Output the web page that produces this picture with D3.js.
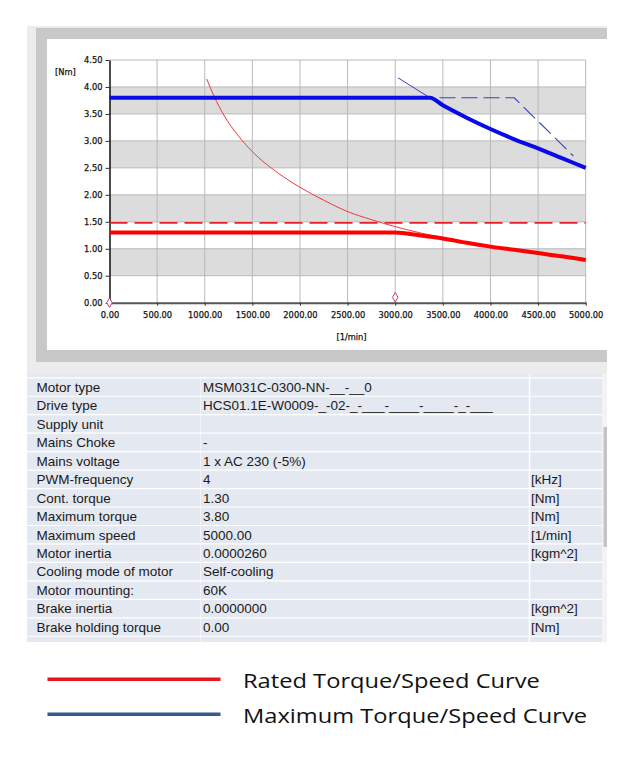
<!DOCTYPE html>
<html>
<head>
<meta charset="utf-8">
<script src="https://cdn.jsdelivr.net/npm/d3@7"></script>
<style>
  html, body { margin: 0; padding: 0; background: #ffffff; }
  svg { display: block; }
</style>
</head>
<body>
<svg id="chart" width="629" height="762"></svg>
<script>
// ---------- data ----------
const xTicks = [0, 500, 1000, 1500, 2000, 2500, 3000, 3500, 4000, 4500, 5000];
const yTicks = [0, 0.5, 1.0, 1.5, 2.0, 2.5, 3.0, 3.5, 4.0, 4.5];

// Maximum torque/speed curve (thick blue)
const maxCurve = [[0, 3.80], [3365, 3.80], [3500, 3.66], [3750, 3.43], [4000, 3.22], [4250, 3.03], [4500, 2.86], [4750, 2.68], [5000, 2.50]];
// thin blue limit curve
const maxLimit = [[3030, 4.17], [3200, 3.98], [3365, 3.80], [3500, 3.66], [3750, 3.43], [4000, 3.22], [4250, 3.03], [4500, 2.86], [4750, 2.68], [5000, 2.50]];
// blue dashed curve
const maxDashed = [[0, 3.80], [4250, 3.80], [4870, 2.72]];

// Rated torque/speed curve (thick red)
const ratedCurve = [[0, 1.30], [3000, 1.30], [3250, 1.25], [3500, 1.19], [3750, 1.11], [4000, 1.04], [4250, 0.98], [4500, 0.92], [4750, 0.86], [5000, 0.79]];
// thin red curve
const ratedLimit = [[1020, 4.15], [1100, 3.82], [1200, 3.48], [1350, 3.10], [1500, 2.80], [1750, 2.43], [2000, 2.14], [2250, 1.90], [2500, 1.69], [2750, 1.54], [3000, 1.41], [3250, 1.30], [3500, 1.21], [4000, 1.05], [4500, 0.93], [5000, 0.80]];
// red dashed line
const ratedDashed = [[0, 1.48], [5000, 1.48]];

// diamond markers
const markers = [[0, 0], [3000, 0.10]];

// table
const tableLabels = ["Motor type", "Drive type", "Supply unit", "Mains Choke", "Mains voltage", "PWM-frequency", "Cont. torque", "Maximum torque", "Maximum speed", "Motor inertia", "Cooling mode of motor", "Motor mounting:", "Brake inertia", "Brake holding torque"];
const tableValues = ["MSM031C-0300-NN-__-__0", "HCS01.1E-W0009-_-02-_-___-____-____-_-___", "", "-", "1 x AC 230 (-5%)", "4", "1.30", "3.80", "5000.00", "0.0000260", "Self-cooling", "60K", "0.0000000", "0.00"];
const tableUnits = ["", "", "", "", "", "[kHz]", "[Nm]", "[Nm]", "[1/min]", "[kgm^2]", "", "", "[kgm^2]", "[Nm]"];

// legend
const legendLabels = ["Rated Torque/Speed Curve", "Maximum Torque/Speed Curve"];
const legendColors = ["#e3161d", "#335a91"];

// ---------- drawing ----------
const svg = d3.select("#chart");

// frame
svg.append("rect").attr("x", 27).attr("y", 26).attr("width", 580).attr("height", 616).attr("fill", "#ececec");
svg.append("rect").attr("x", 36).attr("y", 28).attr("width", 571).attr("height", 334).attr("fill", "#c8c8c8");
svg.append("rect").attr("x", 47).attr("y", 39).attr("width", 560).attr("height", 311).attr("fill", "#ffffff");

const x = d3.scaleLinear().domain([0, 5000]).range([109.5, 585.7]);
const y = d3.scaleLinear().domain([0, 4.5]).range([302.7, 60]);

// bands
const bandStarts = [0.5, 1.5, 2.5, 3.5];
svg.append("g").selectAll("rect").data(bandStarts).join("rect")
  .attr("x", x(0)).attr("width", x(5000) - x(0))
  .attr("y", d => y(d + 0.5)).attr("height", d => y(d) - y(d + 0.5))
  .attr("fill", "#dcdcdc");

// grid
const grid = svg.append("g").attr("stroke", "#b9b9b9").attr("stroke-width", 1);
grid.selectAll("line.v").data(xTicks.slice(1)).join("line").attr("class", "v")
  .attr("x1", d => x(d)).attr("x2", d => x(d)).attr("y1", y(4.5)).attr("y2", y(0));
grid.selectAll("line.h").data(yTicks.slice(1)).join("line").attr("class", "h")
  .attr("x1", x(0)).attr("x2", x(5000)).attr("y1", d => y(d)).attr("y2", d => y(d));

// axes
const fmt = d3.format(".2f");
const yAxis = svg.append("g").attr("transform", `translate(${x(0)},0)`)
  .call(d3.axisLeft(y).tickValues(yTicks).tickFormat(fmt).tickSize(4).tickSizeOuter(0).tickPadding(3));
const xAxis = svg.append("g").attr("transform", `translate(0,${y(0)})`)
  .call(d3.axisBottom(x).tickValues(xTicks).tickFormat(fmt).tickSize(3).tickSizeOuter(0).tickPadding(6));
const axisText = sel => sel.attr("font-family", "DejaVu Sans").attr("font-size", "8.3px")
  .attr("fill", "#151515").attr("stroke", "#151515").attr("stroke-width", 0.25);
[yAxis, xAxis].forEach(g => {
  g.selectAll("text").call(axisText);
  g.selectAll("line").attr("stroke", "#333");
});
yAxis.select(".domain").attr("stroke", "#111").attr("stroke-width", 1.5);
xAxis.select(".domain").attr("stroke", "#555").attr("stroke-width", 2);

svg.append("text").attr("x", 55).attr("y", 74.5).text("[Nm]").call(axisText);
svg.append("text").attr("x", 351.5).attr("y", 339.5).attr("text-anchor", "middle").text("[1/min]").call(axisText);

// lines
const line = d3.line().x(d => x(d[0])).y(d => y(d[1]));
const curve = d3.line().x(d => x(d[0])).y(d => y(d[1])).curve(d3.curveMonotoneX);

svg.append("path").datum(ratedDashed).attr("d", line).attr("fill", "none")
  .attr("stroke", "#e8202a").attr("stroke-width", 1.8).attr("stroke-dasharray", "18,7");
svg.append("path").datum(ratedLimit).attr("d", curve).attr("fill", "none")
  .attr("stroke", "#ee3a3a").attr("stroke-width", 1);
svg.append("path").datum(ratedCurve).attr("d", curve).attr("fill", "none")
  .attr("stroke", "#ff0000").attr("stroke-width", 4);

svg.append("path").datum(maxDashed).attr("d", line).attr("fill", "none")
  .attr("stroke", "#3b3bd0").attr("stroke-width", 1.1).attr("stroke-dasharray", "16,6");
svg.append("path").datum(maxLimit).attr("d", curve).attr("fill", "none")
  .attr("stroke", "#3b3bd0").attr("stroke-width", 1);
svg.append("path").datum(maxCurve).attr("d", curve).attr("fill", "none")
  .attr("stroke", "#0a0ae6").attr("stroke-width", 4);

// markers
svg.append("g").selectAll("path").data(markers).join("path")
  .attr("d", d3.symbol(d3.symbolDiamond, 26))
  .attr("transform", d => `translate(${x(d[0])},${y(d[1])})`)
  .attr("fill", "#ffffff").attr("stroke", "#c83c7c").attr("stroke-width", 1);

// table
const rowH = 18.46, rowTop0 = 377.8;
svg.append("rect").attr("x", 27).attr("y", 374).attr("width", 575).attr("height", 268).attr("fill", "#e4e8f0");
svg.append("rect").attr("x", 602).attr("y", 374).attr("width", 5).attr("height", 268).attr("fill", "#f3f3f3");
svg.append("rect").attr("x", 603.5).attr("y", 427).attr("width", 3.5).attr("height", 120).attr("fill", "#c4c4c4");
const rowsG = svg.append("g");
rowsG.selectAll("line").data(d3.range(tableLabels.length + 1)).join("line")
  .attr("x1", 27).attr("x2", 602)
  .attr("y1", i => rowTop0 + i * rowH).attr("y2", i => rowTop0 + i * rowH)
  .attr("stroke", "#ffffff").attr("stroke-width", 1.2);
svg.append("line").attr("x1", 529.5).attr("x2", 529.5).attr("y1", 375).attr("y2", 642)
  .attr("stroke", "#ffffff").attr("stroke-width", 1.5);
svg.append("line").attr("x1", 200.5).attr("x2", 200.5).attr("y1", 375).attr("y2", 642)
  .attr("stroke", "#ffffff").attr("stroke-width", 1).attr("opacity", 0.5);

const tf = (sel) => sel.attr("font-family", "Liberation Sans, Arial").attr("font-size", "13.5px").attr("fill", "#1a1a1a");
svg.append("g").selectAll("text").data(tableLabels).join("text")
  .attr("x", 36.5).attr("y", (d, i) => rowTop0 + i * rowH + rowH / 2 + 4.8).text(d => d).call(tf);
svg.append("g").selectAll("text").data(tableValues).join("text")
  .attr("x", 203).attr("y", (d, i) => rowTop0 + i * rowH + rowH / 2 + 4.8).text(d => d).call(tf);
svg.append("g").selectAll("text").data(tableUnits).join("text")
  .attr("x", 531).attr("y", (d, i) => rowTop0 + i * rowH + rowH / 2 + 4.8).text(d => d).call(tf);

// legend
const lg = svg.append("g");
lg.selectAll("line").data(legendLabels).join("line")
  .attr("x1", 47.5).attr("x2", 220.5)
  .attr("y1", (d, i) => 679.3 + i * 35).attr("y2", (d, i) => 679.3 + i * 35)
  .attr("stroke", (d, i) => legendColors[i]).attr("stroke-width", 3.4);
const lt = lg.selectAll("text").data(legendLabels).join("text")
  .attr("x", 0).attr("y", 0)
  .attr("font-family", "'Open Sans', sans-serif").attr("font-size", "20px").attr("fill", "#111")
  .text(d => d);
// the reference lettering is horizontally stretched: match its width
const w0 = lt.node().getComputedTextLength();
const sx = w0 > 0 ? 297 / w0 : 1;
lt.attr("transform", (d, i) => `translate(243,${688.3 + i * 35}) scale(${sx.toFixed(3)},1)`);
</script>
</body>
</html>
